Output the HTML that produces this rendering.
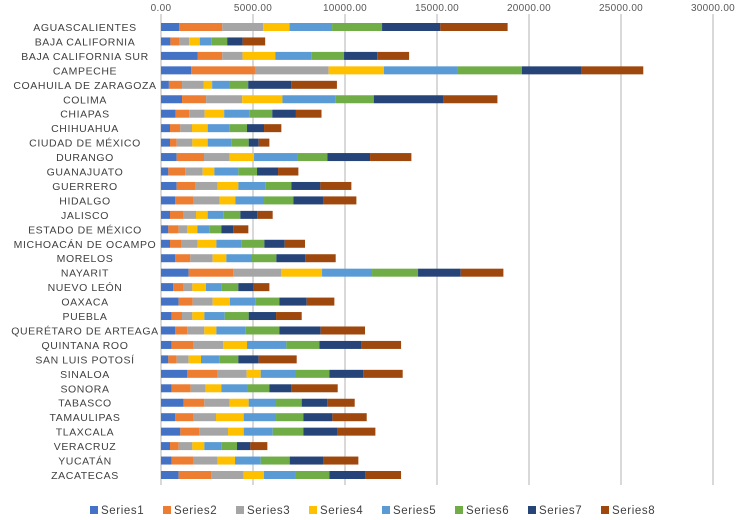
<!DOCTYPE html>
<html><head><meta charset="utf-8"><style>
body{margin:0;background:#fff;}
svg{display:block;font-family:"Liberation Sans",sans-serif;}
</style></head><body>
<svg id="chart" width="736" height="520" viewBox="0 0 736 520"></svg>
<script>
const categories=["AGUASCALIENTES","BAJA CALIFORNIA","BAJA CALIFORNIA SUR","CAMPECHE","COAHUILA DE ZARAGOZA","COLIMA","CHIAPAS","CHIHUAHUA","CIUDAD DE MÉXICO","DURANGO","GUANAJUATO","GUERRERO","HIDALGO","JALISCO","ESTADO DE MÉXICO","MICHOACÁN DE OCAMPO","MORELOS","NAYARIT","NUEVO LEÓN","OAXACA","PUEBLA","QUERÉTARO DE ARTEAGA","QUINTANA ROO","SAN LUIS POTOSÍ","SINALOA","SONORA","TABASCO","TAMAULIPAS","TLAXCALA","VERACRUZ","YUCATÁN","ZACATECAS"];
const seriesNames=["Series1","Series2","Series3","Series4","Series5","Series6","Series7","Series8"];
const series1=[981,511,2002,1634,429,1144,797,489,489,852,399,852,779,489,399,489,779,1504,670,960,580,779,580,399,1413,580,1232,779,1051,489,580,960];
const series2=[2350,470,1328,3473,715,1308,735,562,362,1486,924,1033,997,743,562,634,815,2428,562,761,562,652,1196,453,1667,1033,1123,997,1033,471,1196,1776];
const series3=[2227,552,1103,4004,1165,1961,838,634,852,1395,942,1196,1413,670,471,870,1214,2609,471,1087,562,924,1595,652,1576,815,1377,1214,1558,743,1305,1758];
const series4=[1430,572,1777,3003,470,2186,1062,852,834,1323,634,1123,852,634,544,1015,743,2211,743,942,652,652,1305,670,761,852,1033,1504,852,652,942,1105];
const series5=[2309,654,1961,4025,919,2901,1389,1196,1305,2337,1305,1486,1558,852,652,1377,1395,2718,834,1395,1105,1576,2138,1015,1866,1395,1486,1758,1576,924,1395,1685];
const series6=[2717,838,1777,3473,1042,2063,1226,942,924,1649,1015,1395,1595,924,652,1232,1323,2500,924,1287,1305,1848,1794,1015,1866,1214,1395,1486,1667,852,1576,1866];
const series7=[3167,838,1798,3248,2329,3800,1287,924,544,2319,1142,1576,1649,924,652,1105,1576,2319,834,1486,1486,2247,2301,1105,1848,1196,1395,1576,1866,725,1848,1939];
const series8=[3657,1226,1737,3351,2492,2921,1389,942,580,2247,1105,1685,1776,833,815,1105,1649,2319,852,1504,1395,2410,2138,2066,2138,2519,1486,1866,2048,924,1884,1957];
const tickValues=[0,5000,10000,15000,20000,25000,30000];
const tickLabels=["0.00","5000.00","10000.00","15000.00","20000.00","25000.00","30000.00"];
const allSeries=[series1,series2,series3,series4,series5,series6,series7,series8];
const colors=["#4472C4","#ED7D31","#A5A5A5","#FFC000","#5B9BD5","#70AD47","#264478","#9E480E"];
const NS="http://www.w3.org/2000/svg";
const svg=document.getElementById('chart');
const x0=161, pxPer=92/5000, yTop=27, yStep=(475-27)/31, barH=8;
const xs=v=>x0+v*pxPer;
const ys=i=>yTop+i*yStep;
function mk(t,a){const e=document.createElementNS(NS,t);for(const k in a)e.setAttribute(k,a[k]);svg.appendChild(e);return e;}
tickValues.forEach((v,i)=>{
  const g=mk('line',{x1:xs(v),x2:xs(v),y1:14,y2:485,stroke:'#d9d9d9','stroke-width':2});
  
  
  const t=mk('text',{x:xs(v),y:11,'text-anchor':'middle','font-size':10,fill:'#595959','letter-spacing':'0.3'});
  t.textContent=tickLabels[i];
  
  
});
categories.forEach((c,i)=>{
  const t=mk('text',{x:85,y:ys(i)+4,'text-anchor':'middle','font-size':10.5,fill:'#404040','letter-spacing':'0.6'});
  t.textContent=c;
  
  
  let acc=0;
  allSeries.forEach((s,k)=>{
    const r=mk('rect',{x:xs(acc),y:ys(i)-barH/2,width:s[i]*pxPer,height:barH,fill:colors[k]});
    
    
    acc+=s[i];
  });
});
seriesNames.forEach((n,k)=>{
  const lx=90+k*73;
  const r=mk('rect',{x:lx,y:506,width:8,height:8,fill:colors[k]});
  
  
  const t=mk('text',{x:lx+11,y:514,'font-size':11.5,fill:'#404040','letter-spacing':'0.6'});
  t.textContent=n;
  
  
});
</script>
</body></html>
